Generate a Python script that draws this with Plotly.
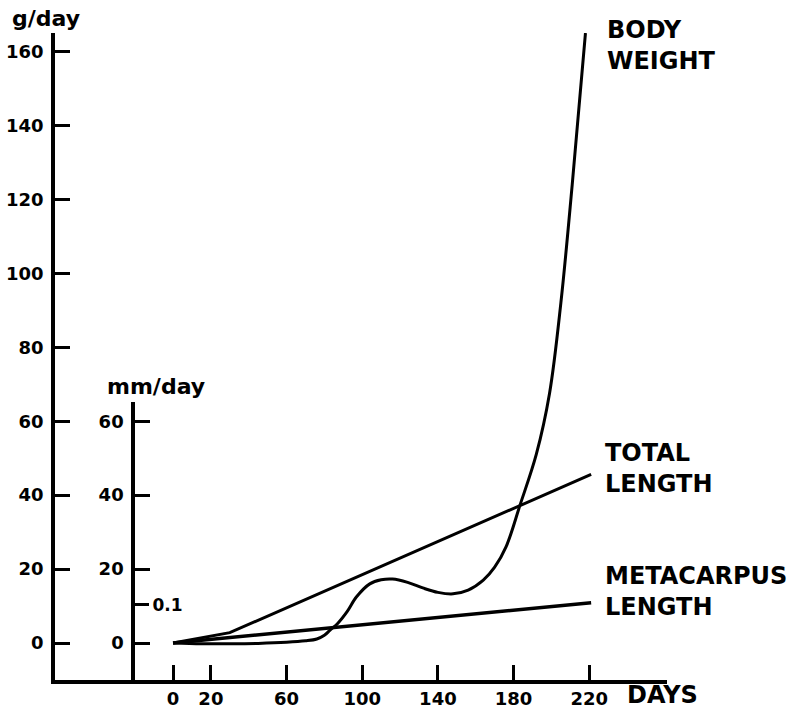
import plotly.graph_objects as go

# ---- data ----
day_ticks = [0, 20, 60, 100, 140, 180, 220]
g_ticks = [0, 20, 40, 60, 80, 100, 120, 140, 160]
mm_ticks = [0, 20, 40, 60]
mm_small_tick = [10.3]
mm_small_label = ["0.1"]

bw_days = [0, 15, 30, 45, 60, 70, 76, 80, 83, 87, 92, 97, 104, 110, 116, 124, 132,
           140, 148, 156, 164, 170, 176, 183.4, 192, 199, 205, 211, 218]
bw_vals = [0, -0.2, -0.2, -0.1, 0.2, 0.6, 1.1, 2.1, 3.5, 5.3, 8.5, 12.5, 16.0, 17.1, 17.3,
           16.4, 14.9, 13.7, 13.3, 14.3, 17.0, 20.5, 26.0, 37.3, 51.0, 67.5, 92.0, 124.0,
           165.0]

tl_days = [0, 30, 221]
tl_vals = [0, 2.8, 45.6]

mc_days = [0, 221]
mc_vals = [0, 10.9]

FONT = "DejaVu Sans"

fig = go.Figure()
fig.add_trace(go.Scatter(x=bw_days, y=bw_vals, mode="lines",
                         line=dict(color="black", width=3, shape="spline", smoothing=1.0),
                         name="BODY WEIGHT", showlegend=False, hoverinfo="skip"))
fig.add_trace(go.Scatter(x=tl_days, y=tl_vals, mode="lines",
                         line=dict(color="black", width=3),
                         name="TOTAL LENGTH", showlegend=False, hoverinfo="skip"))
fig.add_trace(go.Scatter(x=mc_days, y=mc_vals, mode="lines",
                         line=dict(color="black", width=3.5),
                         name="METACARPUS LENGTH", showlegend=False, hoverinfo="skip"))
# carriers for the secondary axes
fig.add_trace(go.Scatter(x=[None], y=[None], yaxis="y2", showlegend=False, hoverinfo="skip"))
fig.add_trace(go.Scatter(x=[None], y=[None], yaxis="y3", showlegend=False, hoverinfo="skip"))

tickfont = dict(family=FONT, size=18, color="black", weight="bold")

fig.update_layout(
    template="none",
    width=800, height=710,
    margin=dict(l=55, r=133, t=33, b=30, autoexpand=False),
    paper_bgcolor="white", plot_bgcolor="rgba(0,0,0,0)",
    xaxis=dict(range=[-62.4, 261.1], tickvals=day_ticks, ticktext=[str(v) for v in day_ticks],
               showline=True, linecolor="black", linewidth=3.5, ticks="inside", ticklen=15,
               tickwidth=2.5, tickcolor="black", showgrid=False, zeroline=False,
               tickfont=tickfont, ticklabelstandoff=0, anchor="y", automargin=False),
    yaxis=dict(range=[-10.0, 165.0], tickvals=g_ticks, showline=True, linecolor="black",
               linewidth=3.5, ticks="inside", ticklen=15, tickwidth=2.5, tickcolor="black",
               showgrid=False, zeroline=False, tickfont=tickfont, ticklabelstandoff=4,
               automargin=False),
    yaxis2=dict(domain=[0, 0.4297], range=[-10.0, 65.2], anchor="free", position=0.1275,
                side="left", tickvals=mm_ticks, showline=True, linecolor="black",
                linewidth=3.5, ticks="inside", ticklen=15, tickwidth=2.5, tickcolor="black",
                showgrid=False, zeroline=False, tickfont=tickfont, ticklabelstandoff=4,
                automargin=False),
    yaxis3=dict(domain=[0, 0.4297], range=[-10.0, 65.2], anchor="free", position=0.1275,
                overlaying="y2", side="right", tickvals=mm_small_tick, ticktext=mm_small_label,
                showline=False, ticks="outside", ticklen=15, tickwidth=2.5, tickcolor="black",
                showgrid=False, zeroline=False,
                tickfont=dict(family=FONT, size=17, color="black", weight="bold"),
                ticklabelstandoff=0, automargin=False),
    showlegend=False,
)

ann_font = dict(family=FONT, size=24, color="black", weight="bold")
fig.add_annotation(x=228.3, y=161.5, xref="x", yref="y", text="BODY<br>WEIGHT",
                   showarrow=False, xanchor="left", yanchor="middle", align="left", font=ann_font)
fig.add_annotation(x=227.2, y=47.1, xref="x", yref="y", text="TOTAL<br>LENGTH",
                   showarrow=False, xanchor="left", yanchor="middle", align="left", font=ann_font)
fig.add_annotation(x=227.2, y=13.9, xref="x", yref="y", text="METACARPUS<br>LENGTH",
                   showarrow=False, xanchor="left", yanchor="middle", align="left", font=ann_font)
fig.add_annotation(x=238.9, y=-0.0232, xref="x", yref="paper", text="DAYS",
                   showarrow=False, xanchor="left", yanchor="middle", font=ann_font)
fig.add_annotation(x=-0.0147, y=1.023, xref="paper", yref="paper", text="g/day",
                   showarrow=False, xanchor="center", yanchor="middle",
                   font=dict(family=FONT, size=22, color="black", weight="bold"))
fig.add_annotation(x=-9.0, y=69.5, xref="x", yref="y", text="mm/day",
                   showarrow=False, xanchor="center", yanchor="middle",
                   font=dict(family=FONT, size=22, color="black", weight="bold"))

fig.write_html("out.html", config={"displayModeBar": False},
               post_script="document.body.style.margin='0';")
